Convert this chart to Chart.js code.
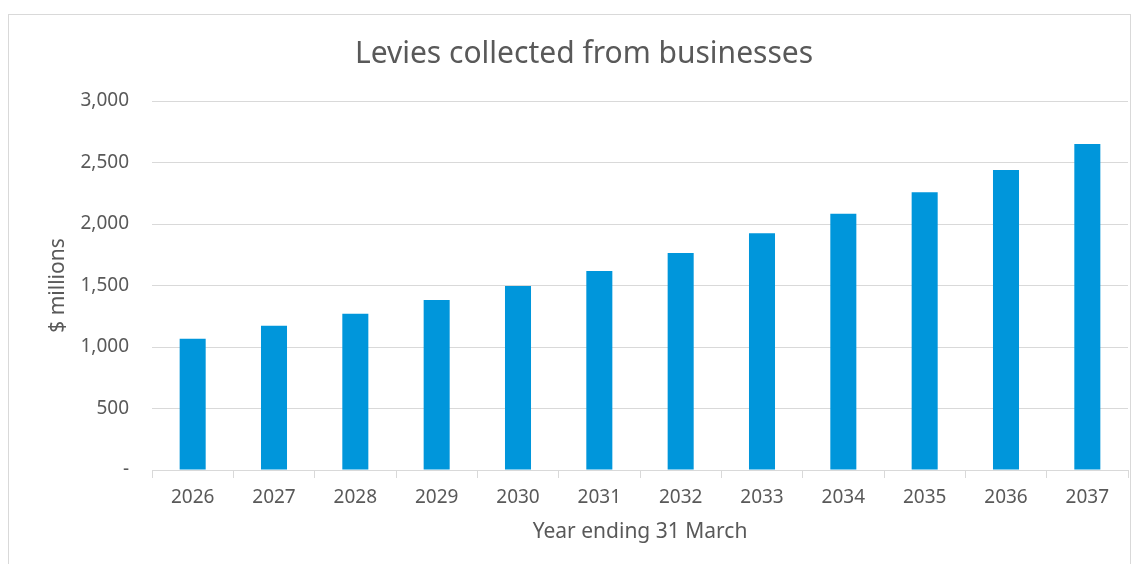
<!DOCTYPE html>
<html>
<head>
  <title>Levies collected from businesses</title>
  <style>
    html, body { margin: 0; padding: 0; background: #fff; }
    #wrap { position: relative; width: 1139px; height: 564px; }
  </style>
</head>
<body>
  <div id="wrap">
    <canvas id="barChart" width="1139" height="564"></canvas>
  </div>

  <script src="https://cdn.jsdelivr.net/npm/chart.js@4.4.0/dist/chart.umd.min.js"></script>
  <script>
    // chart data
    var years = ['2026', '2027', '2028', '2029', '2030', '2031', '2032', '2033', '2034', '2035', '2036', '2037'];
    var levies = [1067, 1173, 1271, 1382, 1496, 1618, 1764, 1924, 2084, 2258, 2439, 2650];
    var yTicks = [0, 500, 1000, 1500, 2000, 2500, 3000];

    var grey = '#595959';
    var lineGrey = '#d9d9d9';
    var fontName = "'Noto Sans', sans-serif";

    // light frame round the chart like the spreadsheet chart box
    var frame = {
      id: 'frame',
      beforeDraw: function(chart) {
        var ctx = chart.ctx;
        ctx.save();
        ctx.fillStyle = '#fff';
        ctx.fillRect(0, 0, chart.width, chart.height);
        ctx.strokeStyle = lineGrey;
        ctx.lineWidth = 1;
        ctx.strokeRect(8.5, 14.5, 1122, 600);
        ctx.restore();
      }
    };

    var ctx = document.getElementById('barChart').getContext('2d');
    new Chart(ctx, {
      type: 'bar',
      data: {
        labels: years,
        datasets: [{
          label: 'Levies',
          data: levies,
          backgroundColor: '#0096db',
          borderWidth: 0,
          categoryPercentage: 1,
          barPercentage: 0.32
        }]
      },
      options: {
        responsive: false,
        animation: false,
        layout: { padding: { left: 40, right: 11, top: 14, bottom: 0 } },
        plugins: {
          legend: { display: false },
          tooltip: { enabled: false },
          title: {
            display: true,
            text: 'Levies collected from businesses',
            color: grey,
            font: { family: fontName, size: 30, weight: 'normal' },
            padding: { top: 22, bottom: 29 }
          }
        },
        scales: {
          x: {
            afterFit: function(axis) { axis.height = 94; },
            grid: { display: true, drawOnChartArea: false, color: lineGrey, tickLength: 8 },
            border: { color: lineGrey },
            ticks: { color: grey, font: { family: fontName, size: 19 }, padding: 8 },
            title: {
              display: true,
              text: 'Year ending 31 March',
              color: grey,
              font: { family: fontName, size: 21 },
              padding: { top: 19, bottom: 19 }
            }
          },
          y: {
            min: 0,
            max: 3000,
            afterBuildTicks: function(axis) {
              axis.ticks = yTicks.map(function(v) { return { value: v }; });
            },
            afterFit: function(axis) { axis.width = 112; },
            grid: { color: lineGrey, drawTicks: false },
            border: { display: false },
            ticks: {
              color: grey,
              font: { family: fontName, size: 19 },
              padding: 23,
              callback: function(v) { return v === 0 ? '-' : v.toLocaleString('en-US'); }
            },
            title: {
              display: true,
              text: '$ millions',
              color: grey,
              font: { family: fontName, size: 21 },
              padding: { top: 5, bottom: 5 }
            }
          }
        }
      },
      plugins: [frame]
    });
  </script>
</body>
</html>
